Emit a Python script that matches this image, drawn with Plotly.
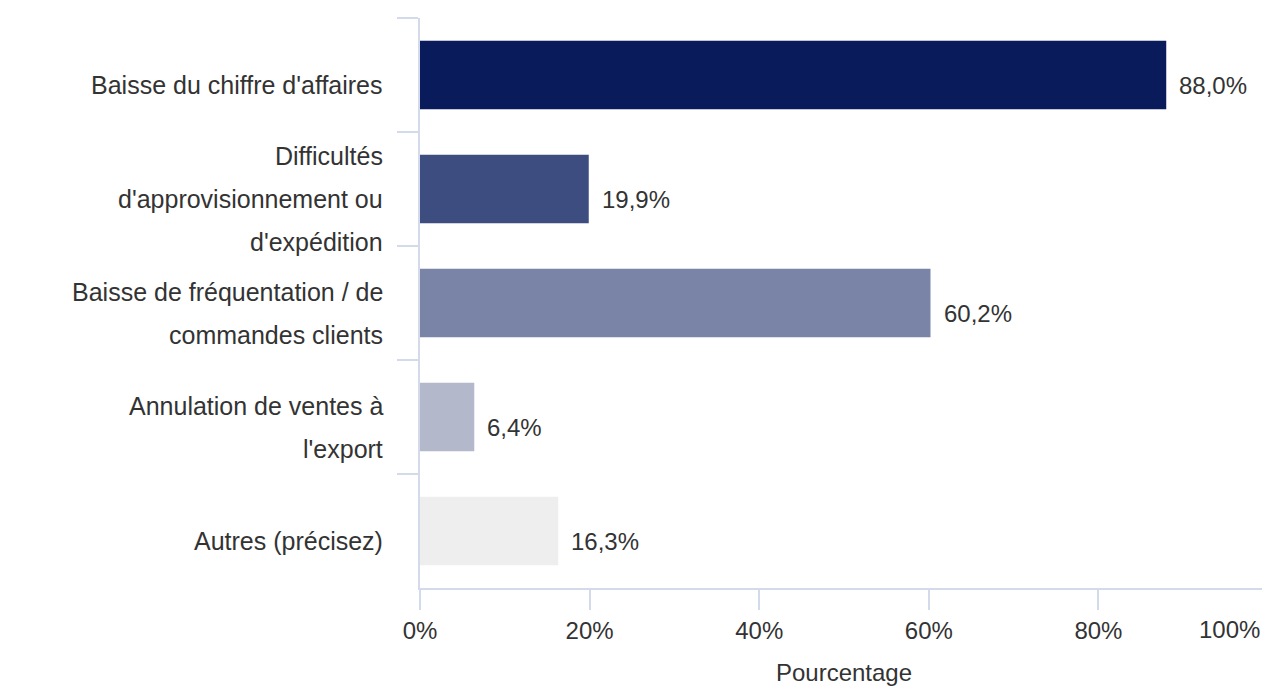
import plotly.graph_objects as go

categories = [
    "Baisse du chiffre d'affaires",
    "Difficultés d'approvisionnement ou d'expédition",
    "Baisse de fréquentation / de commandes clients",
    "Annulation de ventes à l'export",
    "Autres (précisez)",
]
label_lines = [
    ["Baisse du chiffre d'affaires"],
    ["Difficultés", "d'approvisionnement ou", "d'expédition"],
    ["Baisse de fréquentation / de", "commandes clients"],
    ["Annulation de ventes à", "l'export"],
    ["Autres (précisez)"],
]
values = [88.0, 19.9, 60.2, 6.4, 16.3]
value_labels = ["88,0%", "19,9%", "60,2%", "6,4%", "16,3%"]
colors = ["#0a1b5b", "#3d4d80", "#7a84a7", "#b3b8cb", "#eeeeee"]
x_ticks = [0, 20, 40, 60, 80]
x_ticktext = ["0%", "20%", "40%", "60%", "80%"]

FONT = "Arial, Liberation Sans, sans-serif"
TXT = "#333333"
AXC = "#d3dbea"

fig = go.Figure(go.Bar(
    x=values, y=categories, orientation="h",
    marker=dict(color=colors, line=dict(width=0)),
    hoverinfo="skip",
))

ann = []
LINE_H = 43
for cat, lines in zip(categories, label_lines):
    n = len(lines)
    for k, line in enumerate(lines):
        off = ((n - 1) / 2 - k) * LINE_H - 10
        ann.append(dict(x=0, y=cat, xref="x", yref="y", text=line, showarrow=False,
                        xanchor="right", yanchor="middle", xshift=-35, yshift=off,
                        font=dict(family=FONT, size=25, color=TXT)))
for cat, v, t in zip(categories, values, value_labels):
    ann.append(dict(x=v, y=cat, xref="x", yref="y", text=t, showarrow=False,
                    xanchor="left", yanchor="middle", xshift=11, yshift=-10,
                    font=dict(family=FONT, size=24, color=TXT)))
ann.append(dict(x=100, y=0, xref="x", yref="paper", text="100%", showarrow=False,
                xanchor="right", yanchor="top", yshift=-26, xshift=-6,
                font=dict(family=FONT, size=24, color=TXT)))

# page body has an 8px margin: figure is sized/offset to compensate
fig.update_layout(
    width=1262, height=681,
    margin=dict(l=412, r=2, t=10, b=101),
    paper_bgcolor="white", plot_bgcolor="white",
    bargap=0.40,
    showlegend=False,
    annotations=ann,
    font=dict(family=FONT, color=TXT),
    xaxis=dict(
        range=[0, 100], tickvals=x_ticks, ticktext=x_ticktext,
        showgrid=False, zeroline=False,
        showline=True, linecolor=AXC, linewidth=2,
        ticks="outside", ticklen=20, tickcolor=AXC, tickwidth=2,
        tickfont=dict(family=FONT, size=24, color=TXT),
        title=dict(text="Pourcentage", font=dict(family=FONT, size=24, color=TXT), standoff=21),
    ),
    yaxis=dict(
        type="category", autorange="reversed",
        showticklabels=False, showgrid=False, zeroline=False,
        showline=True, linecolor=AXC, linewidth=2,
        ticks="outside", ticklen=21, tickcolor=AXC, tickwidth=2,
        tickson="boundaries",
    ),
)

fig.write_html("out.html")
